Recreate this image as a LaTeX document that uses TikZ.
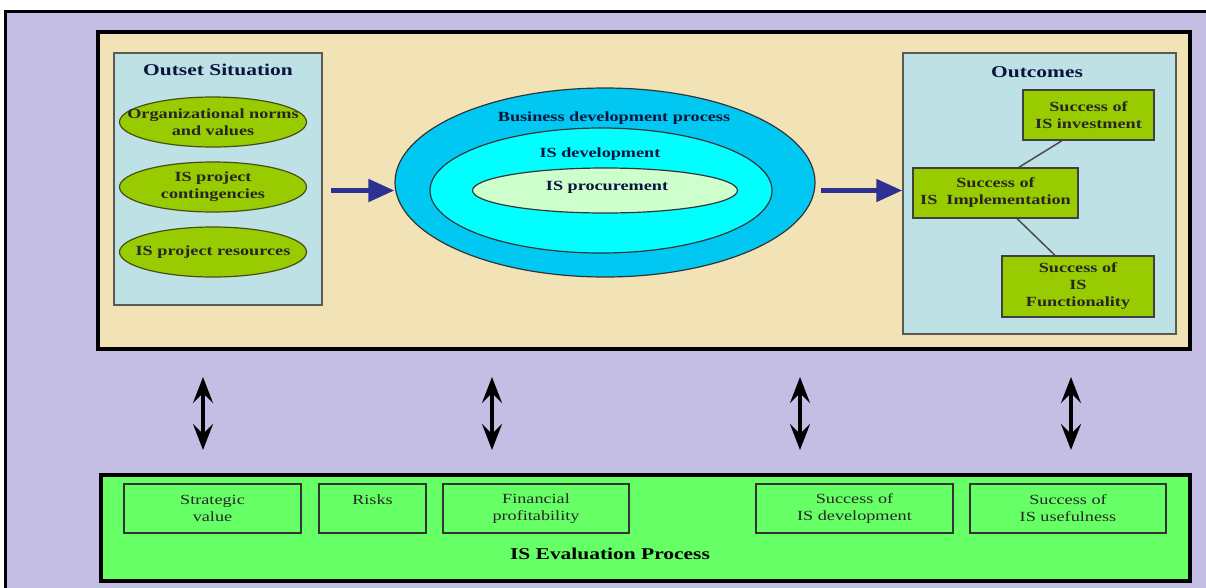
\documentclass[tikz,border=0pt]{standalone}
\usepackage{fontspec}
\setmainfont[FakeStretch=1.3]{Liberation Serif}
\usepackage{tikz}
\usetikzlibrary{shapes.geometric, arrows.meta, calc, positioning}

\definecolor{lilac}{RGB}{197,190,228}
\definecolor{sand}{RGB}{241,227,181}
\definecolor{paleblue}{RGB}{190,225,229}
\definecolor{olive}{RGB}{153,204,0}
\definecolor{olivedark}{RGB}{70,80,20}
\definecolor{skyblue}{RGB}{0,200,242}
\definecolor{aqua}{RGB}{0,255,255}
\definecolor{mint}{RGB}{204,255,204}
\definecolor{evalgreen}{RGB}{102,255,102}
\definecolor{arrowblue}{RGB}{46,49,146}
\definecolor{navy}{RGB}{10,20,60}

\newcommand\bodyfont{\fontsize{14}{17}\selectfont}
\newcommand\titlefont{\fontsize{16.5}{19}\selectfont}

\tikzset{
  panel/.style={rectangle, draw=black!65, fill=paleblue, line width=1.5pt, inner sep=0pt},
  factor/.style={ellipse, draw=olivedark, fill=olive, line width=1.2pt, minimum width=187pt,
    minimum height=50pt, inner xsep=-40pt, inner ysep=-12pt, align=center,
    font=\bodyfont\bfseries, text=black!85},
  result/.style={rectangle, draw=black!75, fill=olive, line width=1.3pt, inner sep=0pt,
    align=center, font=\bodyfont\bfseries, text=black!85},
  measure/.style={rectangle, draw=black!80, fill=evalgreen, line width=1.3pt, inner sep=0pt,
    minimum height=49pt, align=center, font=\bodyfont, text=black!85},
  heading/.style={font=\titlefont\bfseries, text=navy},
  caption/.style={font=\bodyfont\bfseries, text=navy},
  ring/.style={ellipse, draw=black!80, line width=1.2pt, inner sep=0pt},
  flow/.style={-{Triangle[length=26pt,width=22pt]}, line width=5pt, draw=arrowblue},
  link/.style={draw=black!70, line width=1.5pt},
  dbl/.style={{Stealth[length=26pt,width=20pt,inset=10pt]}-{Stealth[length=26pt,width=20pt,inset=10pt]},
    line width=3.5pt}
}

\begin{document}
\begin{tikzpicture}[x=1pt, y=-1pt]
  \useasboundingbox (0,0) rectangle (1206,587);
  \clip (0,0) rectangle (1206,587);
  \fill[white] (0,0) rectangle (1206,587);

  % Frames
  \draw[fill=lilac, line width=3pt] (5,11) rectangle (1215,600);
  \node[rectangle, draw=black, fill=sand, line width=4pt, minimum width=1092pt,
        minimum height=317pt, inner sep=0pt] (ctx) at (644,190.5) {};
  \node[rectangle, draw=black, fill=evalgreen, line width=4pt, minimum width=1089pt,
        minimum height=106pt, inner sep=0pt] (eval) at (645.5,528) {};

  % Outset situation
  \node[panel, minimum width=208pt, minimum height=252pt] (outset) at (218,179) {};
  \node[heading] (outsettitle) at (218,70) {Outset Situation};
  \node[factor] (norms) at (213,122) {Organizational norms\\and values};
  \node[factor] (contin) at (213,187) {IS project\\contingencies};
  \node[factor] (resour) at (213,252) {IS project resources};

  % Development process
  \node[ring, fill=skyblue, minimum width=420pt, minimum height=189pt] (bdp) at (605,182.5) {};
  \node[ring, fill=aqua, minimum width=342pt, minimum height=125pt] (isdev) at (601,190.5) {};
  \node[ring, fill=mint, minimum width=265pt, minimum height=45pt] (inproc) at (605,190.5) {};
  \node[caption] (bdptext) at (614,118) {Business development process};
  \node[caption] (isdevtext) at (600,154) {IS development};
  \node[caption] (inproctext) at (607,187) {IS procurement};

  % Outcomes
  \node[panel, minimum width=273pt, minimum height=281pt] (outcomes) at (1039.5,193.5) {};
  \node[heading] (outtitle) at (1037,72) {Outcomes};
  \node[result, minimum width=131pt, minimum height=50pt] (invest) at (1088.5,115) {Success of\\IS investment};
  \node[result, minimum width=165pt, minimum height=50pt] (impl) at (995.5,193) {Success of\\IS~~Implementation};
  \node[result, minimum width=152pt, minimum height=61pt] (func) at (1078,286.5) {Success of\\IS\\Functionality};

  % Evaluation measures
  \node[measure, minimum width=177pt] (strat) at (212.5,508.5) {Strategic\\value};
  \node[measure, minimum width=107pt] (risks) at (372.5,508.5) {Risks\\~};
  \node[measure, minimum width=186pt] (finan) at (536,508.5) {Financial\\profitability};
  \node[measure, minimum width=197pt] (devsucc) at (854.5,508.5) {Success of\\IS development};
  \node[measure, minimum width=196pt] (usesucc) at (1068,508.5) {Success of\\IS usefulness};
  \node[font=\titlefont\bfseries] (evaltitle) at (610,554) {IS Evaluation Process};

  % Connect the nodes
  \draw[flow, shorten <=8pt] (outset.east |- inproc) -- (bdp.west |- inproc);
  \draw[flow, shorten <=5pt] (bdp.east |- inproc) -- (outcomes.west |- inproc);
  \draw[link] ($(invest.south west)!0.3!(invest.south east)$) -- ($(impl.north west)!0.64!(impl.north east)$);
  \draw[link] ($(impl.south west)!0.63!(impl.south east)$) -- ($(func.north west)!0.35!(func.north east)$);
  \foreach \x [count=\i] in {203,492,800,1071} {
    \coordinate (up\i) at (\x,377);
    \coordinate (dn\i) at (\x,450);
    \draw[dbl] (up\i) -- (dn\i);
  }
\end{tikzpicture}
\end{document}
